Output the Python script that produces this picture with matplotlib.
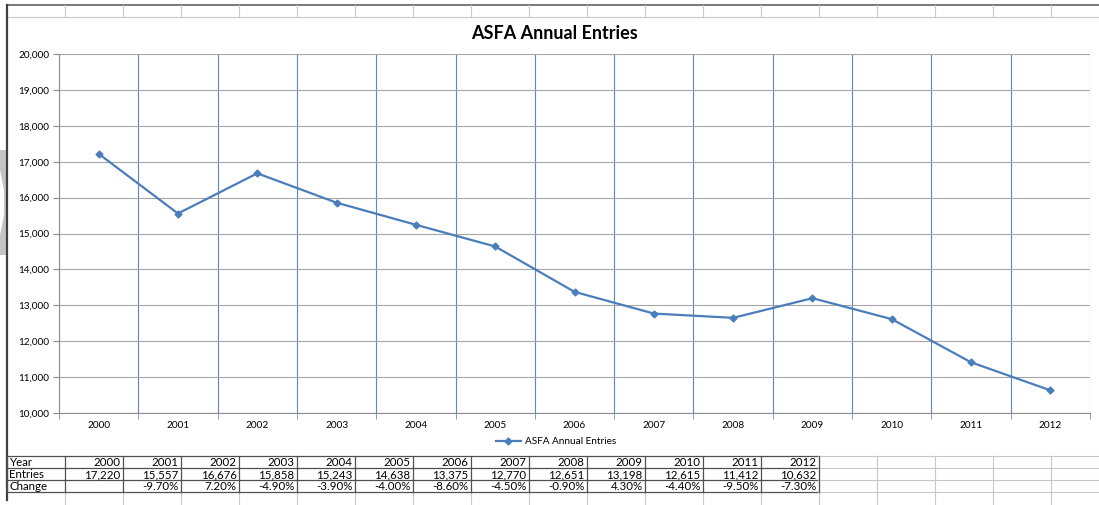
import matplotlib.pyplot as plt
from matplotlib.lines import Line2D
from matplotlib.patches import Polygon

years = [2000, 2001, 2002, 2003, 2004, 2005, 2006, 2007, 2008, 2009, 2010, 2011, 2012]
entries = [17220, 15557, 16676, 15858, 15243, 14638, 13375, 12770, 12651, 13198, 12615, 11412, 10632]
change = ["", "-9.70%", "7.20%", "-4.90%", "-3.90%", "-4.00%", "-8.60%", "-4.50%",
          "-0.90%", "4.30%", "-4.40%", "-9.50%", "-7.30%"]
row_labels = ["Year", "Entries", "Change"]
series_name = "ASFA Annual Entries"

W, H = 1099, 505
font = "Lato"
line_color = "#4a7ebb"

fig = plt.figure(figsize=(W / 100, H / 100), dpi=100)

# background layer in pixel coords (spreadsheet cells, table)
bg = fig.add_axes([0, 0, 1, 1])
bg.set_xlim(0, W)
bg.set_ylim(H, 0)
bg.axis("off")

cell_w = 58
col_x = [7 + i * cell_w for i in range(20)]
light = "#c8c8c8"

# top spreadsheet row
bg.plot([7, W], [5, 5], color="#606060", lw=1.2)
bg.plot([7, W], [17, 17], color=light, lw=0.8)
for x in col_x[1:]:
    if x < W:
        bg.plot([x, x], [5, 17], color=light, lw=0.8)

# left border of sheet area
bg.plot([7, 7], [5, 500], color="#404040", lw=1.6)

# gray shape on the far left
bg.add_patch(Polygon([[0, 150], [6, 150], [6, 255], [0, 255], [0, 235], [4, 215],
                      [4, 190], [0, 170]], closed=True, color="#c4c4c4", lw=0))

# table rows
row_y = [456, 468, 480, 492]
for y in row_y:
    bg.plot([817, W], [y, y], color=light, lw=0.8)
for x in col_x:
    if 817 < x < W:
        bg.plot([x, x], [456, H], color=light, lw=0.8)
for x in col_x[1:15]:
    bg.plot([x, x], [492, H], color=light, lw=0.8)
for y in row_y:
    bg.plot([7, 817], [y, y], color="#505050", lw=0.9)
for x in col_x[:15]:
    bg.plot([x, x], [456, 492], color="#505050", lw=0.9)

rows = [[str(y) for y in years], [f"{v:,}" for v in entries], change]
for r, (label, vals) in enumerate(zip(row_labels, rows)):
    yc = row_y[r] + 6.5
    bg.text(9, yc, label, fontsize=8.3, family=font, va="center", ha="left")
    for c, v in enumerate(vals):
        bg.text(col_x[c + 2] - 2.5, yc, v, fontsize=8.3, family=font, va="center", ha="right")

# chart
ax = fig.add_axes([59 / W, 1 - 413 / H, (1090 - 59) / W, (413 - 54) / H])
x = list(range(len(years)))
ax.plot(x, entries, color=line_color, lw=1.6, marker="D", ms=3.5, label=series_name)
ax.set_xlim(-0.5, len(years) - 0.5)
ax.set_ylim(10000, 20000)
ax.set_yticks(range(10000, 20001, 1000))
ax.set_yticklabels([f"{v:,}" for v in range(10000, 20001, 1000)])
ax.set_xticks(x)
ax.set_xticklabels([str(y) for y in years])
ax.set_xticks([i - 0.5 for i in range(len(years) + 1)], minor=True)
ax.tick_params(axis="x", which="major", length=0, pad=6, labelsize=7.2)
ax.tick_params(axis="x", which="minor", length=4, color="#8c8c8c")
ax.tick_params(axis="y", length=4, color="#8c8c8c", labelsize=7.2, pad=3)
for lab in ax.get_xticklabels() + ax.get_yticklabels():
    lab.set_family(font)
ax.grid(axis="y", color="#a6a6a6", lw=0.8)
ax.grid(axis="x", which="minor", color="#5b87c5", lw=0.8)
ax.set_axisbelow(True)
for s in ["top", "right"]:
    ax.spines[s].set_visible(False)
ax.spines["left"].set_color("#8c8c8c")
ax.spines["bottom"].set_color("#8c8c8c")

fig.text(554 / W, 1 - 33 / H, series_name, fontsize=13, fontweight="bold",
         family=font, ha="center", va="center")

handle = Line2D([], [], color=line_color, lw=1.6, marker="D", ms=3.5)
fig.legend([handle], [series_name], loc="center", bbox_to_anchor=(556 / W, 1 - 442 / H),
           frameon=False, prop={"family": font, "size": 7.2}, handlelength=2.5,
           handletextpad=0.4)

fig.savefig("out.png", dpi=100)
